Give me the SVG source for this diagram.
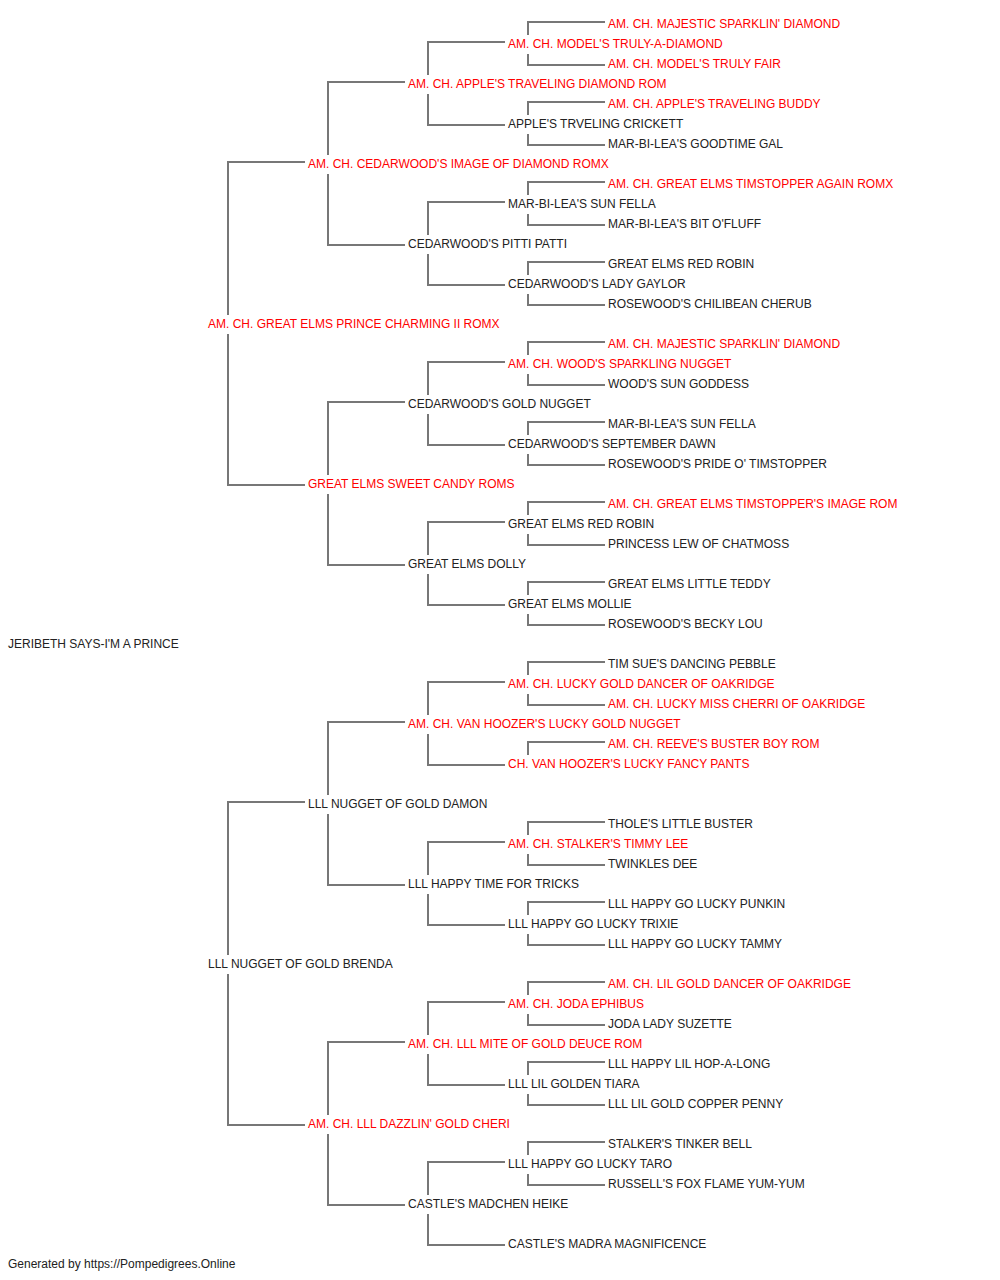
<svg xmlns="http://www.w3.org/2000/svg" width="1000" height="1280" viewBox="0 0 1000 1280">
<style>
text{font-family:"Liberation Sans",Arial,sans-serif;font-size:12px;fill:#222}
.r{fill:#ff0000}
.c{fill:none;stroke:#777;stroke-width:2}
</style>
<rect width="1000" height="1280" fill="#fff"/>
<g id="connectors" class="c">
<path d="M305,162H228V315M228,334V485H305"/>
<path d="M305,802H228V955M228,974V1125H305"/>
<path d="M405,82H328V155M328,174V245H405"/>
<path d="M405,402H328V475M328,494V565H405"/>
<path d="M405,722H328V795M328,814V885H405"/>
<path d="M405,1042H328V1115M328,1134V1205H405"/>
<path d="M505,42H428V75M428,94V125H505"/>
<path d="M505,202H428V235M428,254V285H505"/>
<path d="M505,362H428V395M428,414V445H505"/>
<path d="M505,522H428V555M428,574V605H505"/>
<path d="M505,682H428V715M428,734V765H505"/>
<path d="M505,842H428V875M428,894V925H505"/>
<path d="M505,1002H428V1035M428,1054V1085H505"/>
<path d="M505,1162H428V1195M428,1214V1245H505"/>
<path d="M605,22H528V35M528,54V65H605"/>
<path d="M605,102H528V115M528,134V145H605"/>
<path d="M605,182H528V195M528,214V225H605"/>
<path d="M605,262H528V275M528,294V305H605"/>
<path d="M605,342H528V355M528,374V385H605"/>
<path d="M605,422H528V435M528,454V465H605"/>
<path d="M605,502H528V515M528,534V545H605"/>
<path d="M605,582H528V595M528,614V625H605"/>
<path d="M605,662H528V675M528,694V705H605"/>
<path d="M605,742H528V755"/>
<path d="M605,822H528V835M528,854V865H605"/>
<path d="M605,902H528V915M528,934V945H605"/>
<path d="M605,982H528V995M528,1014V1025H605"/>
<path d="M605,1062H528V1075M528,1094V1105H605"/>
<path d="M605,1142H528V1155M528,1174V1185H605"/>
</g>
<g id="n0"><text x="8" y="648">JERIBETH SAYS-I'M A PRINCE</text></g>
<g id="n1a"><text class="r" x="208" y="328">AM. CH. GREAT ELMS PRINCE CHARMING II ROMX</text></g>
<g id="n1b"><text x="208" y="968">LLL NUGGET OF GOLD BRENDA</text></g>
<g id="n2a"><text class="r" x="308" y="168">AM. CH. CEDARWOOD'S IMAGE OF DIAMOND ROMX</text></g>
<g id="n2b"><text class="r" x="308" y="488">GREAT ELMS SWEET CANDY ROMS</text></g>
<g id="n2c"><text x="308" y="808">LLL NUGGET OF GOLD DAMON</text></g>
<g id="n2d"><text class="r" x="308" y="1128">AM. CH. LLL DAZZLIN' GOLD CHERI</text></g>
<g id="n3a"><text class="r" x="408" y="88">AM. CH. APPLE'S TRAVELING DIAMOND ROM</text></g>
<g id="n3b"><text x="408" y="248">CEDARWOOD'S PITTI PATTI</text></g>
<g id="n3c"><text x="408" y="408">CEDARWOOD'S GOLD NUGGET</text></g>
<g id="n3d"><text x="408" y="568">GREAT ELMS DOLLY</text></g>
<g id="n3e"><text class="r" x="408" y="728">AM. CH. VAN HOOZER'S LUCKY GOLD NUGGET</text></g>
<g id="n3f"><text x="408" y="888">LLL HAPPY TIME FOR TRICKS</text></g>
<g id="n3g"><text class="r" x="408" y="1048">AM. CH. LLL MITE OF GOLD DEUCE ROM</text></g>
<g id="n3h"><text x="408" y="1208">CASTLE'S MADCHEN HEIKE</text></g>
<g id="n4a"><text class="r" x="508" y="48">AM. CH. MODEL'S TRULY-A-DIAMOND</text></g>
<g id="n4b"><text x="508" y="128">APPLE'S TRVELING CRICKETT</text></g>
<g id="n4c"><text x="508" y="208">MAR-BI-LEA'S SUN FELLA</text></g>
<g id="n4d"><text x="508" y="288">CEDARWOOD'S LADY GAYLOR</text></g>
<g id="n4e"><text class="r" x="508" y="368">AM. CH. WOOD'S SPARKLING NUGGET</text></g>
<g id="n4f"><text x="508" y="448">CEDARWOOD'S SEPTEMBER DAWN</text></g>
<g id="n4g"><text x="508" y="528">GREAT ELMS RED ROBIN</text></g>
<g id="n4h"><text x="508" y="608">GREAT ELMS MOLLIE</text></g>
<g id="n4i"><text class="r" x="508" y="688">AM. CH. LUCKY GOLD DANCER OF OAKRIDGE</text></g>
<g id="n4j"><text class="r" x="508" y="768">CH. VAN HOOZER'S LUCKY FANCY PANTS</text></g>
<g id="n4k"><text class="r" x="508" y="848">AM. CH. STALKER'S TIMMY LEE</text></g>
<g id="n4l"><text x="508" y="928">LLL HAPPY GO LUCKY TRIXIE</text></g>
<g id="n4m"><text class="r" x="508" y="1008">AM. CH. JODA EPHIBUS</text></g>
<g id="n4n"><text x="508" y="1088">LLL LIL GOLDEN TIARA</text></g>
<g id="n4o"><text x="508" y="1168">LLL HAPPY GO LUCKY TARO</text></g>
<g id="n4p"><text x="508" y="1248">CASTLE'S MADRA MAGNIFICENCE</text></g>
<g id="n5-01"><text class="r" x="608" y="28">AM. CH. MAJESTIC SPARKLIN' DIAMOND</text></g>
<g id="n5-02"><text class="r" x="608" y="68">AM. CH. MODEL'S TRULY FAIR</text></g>
<g id="n5-03"><text class="r" x="608" y="108">AM. CH. APPLE'S TRAVELING BUDDY</text></g>
<g id="n5-04"><text x="608" y="148">MAR-BI-LEA'S GOODTIME GAL</text></g>
<g id="n5-05"><text class="r" x="608" y="188">AM. CH. GREAT ELMS TIMSTOPPER AGAIN ROMX</text></g>
<g id="n5-06"><text x="608" y="228">MAR-BI-LEA'S BIT O'FLUFF</text></g>
<g id="n5-07"><text x="608" y="268">GREAT ELMS RED ROBIN</text></g>
<g id="n5-08"><text x="608" y="308">ROSEWOOD'S CHILIBEAN CHERUB</text></g>
<g id="n5-09"><text class="r" x="608" y="348">AM. CH. MAJESTIC SPARKLIN' DIAMOND</text></g>
<g id="n5-10"><text x="608" y="388">WOOD'S SUN GODDESS</text></g>
<g id="n5-11"><text x="608" y="428">MAR-BI-LEA'S SUN FELLA</text></g>
<g id="n5-12"><text x="608" y="468">ROSEWOOD'S PRIDE O' TIMSTOPPER</text></g>
<g id="n5-13"><text class="r" x="608" y="508">AM. CH. GREAT ELMS TIMSTOPPER'S IMAGE ROM</text></g>
<g id="n5-14"><text x="608" y="548">PRINCESS LEW OF CHATMOSS</text></g>
<g id="n5-15"><text x="608" y="588">GREAT ELMS LITTLE TEDDY</text></g>
<g id="n5-16"><text x="608" y="628">ROSEWOOD'S BECKY LOU</text></g>
<g id="n5-17"><text x="608" y="668">TIM SUE'S DANCING PEBBLE</text></g>
<g id="n5-18"><text class="r" x="608" y="708">AM. CH. LUCKY MISS CHERRI OF OAKRIDGE</text></g>
<g id="n5-19"><text class="r" x="608" y="748">AM. CH. REEVE'S BUSTER BOY ROM</text></g>
<g id="n5-21"><text x="608" y="828">THOLE'S LITTLE BUSTER</text></g>
<g id="n5-22"><text x="608" y="868">TWINKLES DEE</text></g>
<g id="n5-23"><text x="608" y="908">LLL HAPPY GO LUCKY PUNKIN</text></g>
<g id="n5-24"><text x="608" y="948">LLL HAPPY GO LUCKY TAMMY</text></g>
<g id="n5-25"><text class="r" x="608" y="988">AM. CH. LIL GOLD DANCER OF OAKRIDGE</text></g>
<g id="n5-26"><text x="608" y="1028">JODA LADY SUZETTE</text></g>
<g id="n5-27"><text x="608" y="1068">LLL HAPPY LIL HOP-A-LONG</text></g>
<g id="n5-28"><text x="608" y="1108">LLL LIL GOLD COPPER PENNY</text></g>
<g id="n5-29"><text x="608" y="1148">STALKER'S TINKER BELL</text></g>
<g id="n5-30"><text x="608" y="1188">RUSSELL'S FOX FLAME YUM-YUM</text></g>
<g id="footer"><text x="8" y="1268">Generated by https://Pompedigrees.Online</text></g>
</svg>
